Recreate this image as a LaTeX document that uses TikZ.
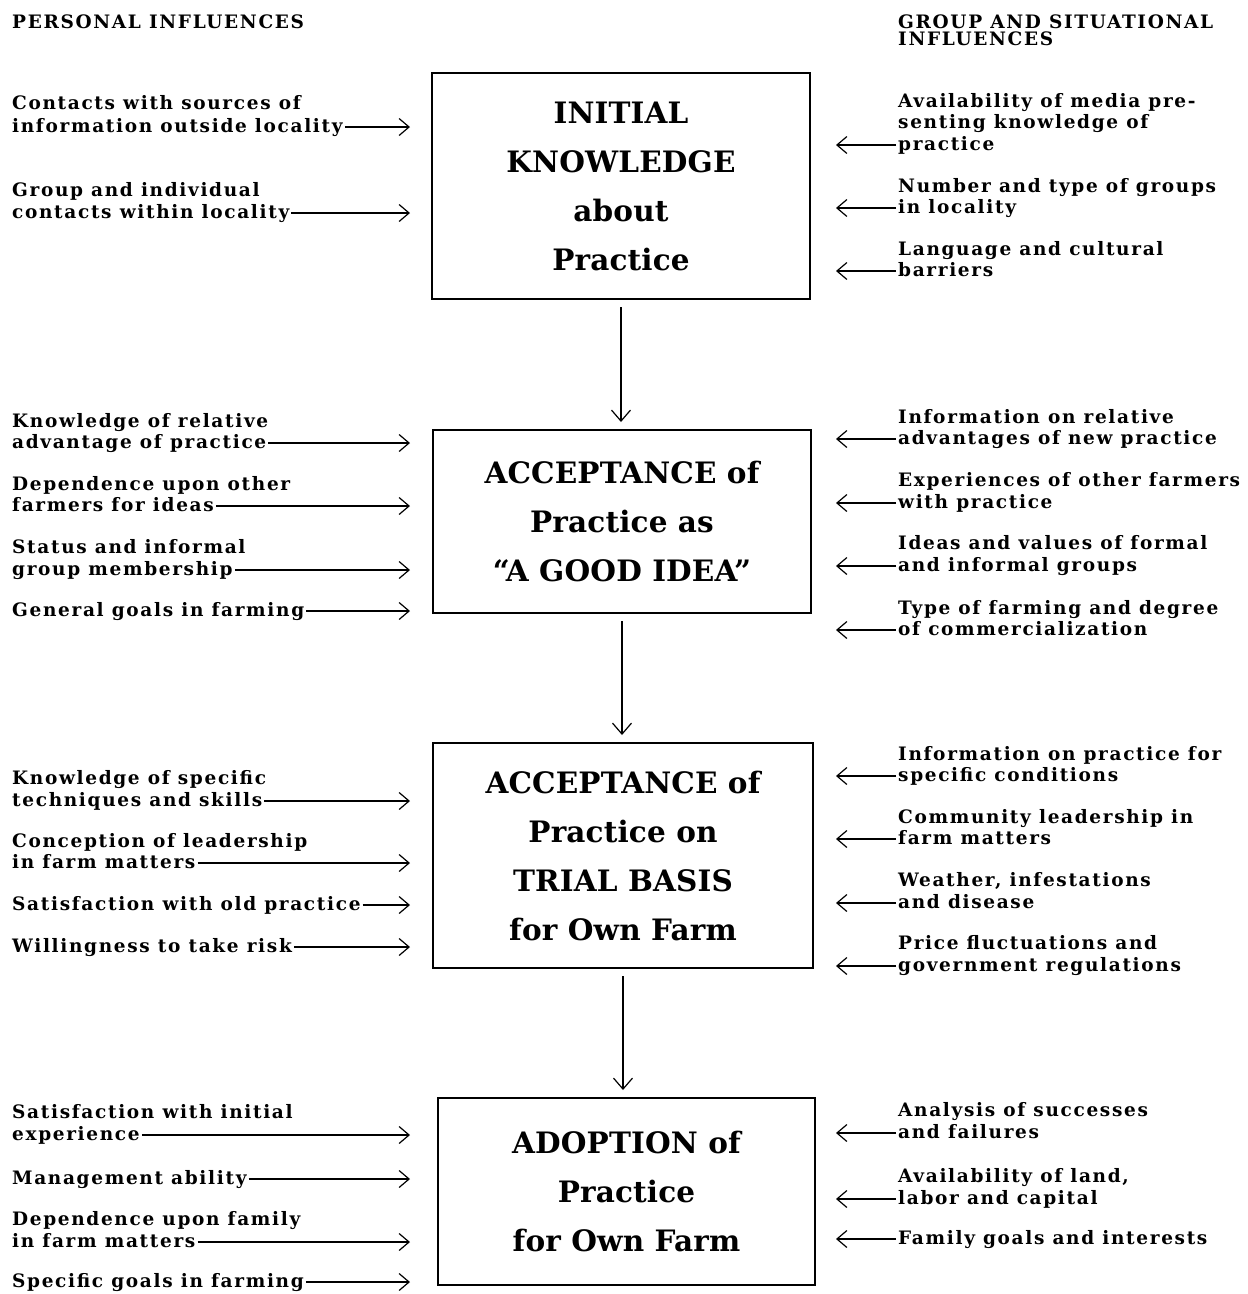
\documentclass[tikz,border=0pt]{standalone}
\usepackage{fontspec}
\newfontfamily\labfont{DejaVu Serif}[LetterSpace=9,BoldFont={DejaVu Serif Bold}]
\newfontfamily\hdrfont{DejaVu Serif}[LetterSpace=9,BoldFont={DejaVu Serif Bold}]
\newfontfamily\stagefont{DejaVu Serif}[LetterSpace=0.5,BoldFont={DejaVu Serif Bold}]
\usetikzlibrary{arrows.meta}
\tikzset{
  lab/.style={anchor=base west, inner sep=0pt, font=\labfont\bfseries\fontsize{18.5}{21}\selectfont},
  hdr/.style={anchor=base west, inner sep=0pt, font=\hdrfont\bfseries\fontsize{18.5}{17}\selectfont},
  stage/.style={draw, line width=2pt, align=center, inner sep=0pt,
    font=\stagefont\bfseries\fontsize{29.5}{49}\selectfont},
  infl/.style={line width=1.2pt, -{Straight Barb[length=10pt,width=17pt,line width=1.2pt]}},
  flow/.style={line width=1.2pt, shorten <=7pt, shorten >=7pt,
    -{Straight Barb[length=11pt,width=19pt,line width=1.2pt]}}
}
\newcommand\larrow[1]{%
  \path ([yshift=5pt]#1.base east) coordinate (#1-t);
  \draw[infl] ([xshift=2pt]#1-t) -- (#1-t -| ltip);}
\newcommand\rarrow[1]{%
  \path ([yshift=5pt]#1.base west) coordinate (#1-t);
  \draw[infl] ([xshift=-2pt]#1-t) -- (#1-t -| rtip);}
\begin{document}
\begin{tikzpicture}[x=1pt,y=-1pt]
\fill[white] (0,0) rectangle (1248,1294);
\useasboundingbox (0,0) rectangle (1248,1294);
\coordinate (ltip) at (410,0);
\coordinate (rtip) at (836,0);

% headers
\node[hdr] (h1) at (12,28) {PERSONAL INFLUENCES};
\node[hdr] (h2) at (898,28) {GROUP AND SITUATIONAL};
\node[hdr] (h3) at (898,45) {INFLUENCES};

% stages
\node[stage, minimum width=378pt, minimum height=226pt] (b1) at (621,186)
  {INITIAL\\KNOWLEDGE\\about\\Practice};
\node[stage, minimum width=378pt, minimum height=183pt] (b2) at (622,521.5)
  {ACCEPTANCE of\\Practice as\\“A GOOD IDEA”};
\node[stage, minimum width=380pt, minimum height=225pt] (b3) at (623,855.5)
  {ACCEPTANCE of\\Practice on\\TRIAL BASIS\\for Own Farm};
\node[stage, minimum width=377pt, minimum height=187pt] (b4) at (626.5,1191.5)
  {ADOPTION of\\Practice\\for Own Farm};

\draw[flow] (b1.south) -- (b1.south |- b2.north);
\draw[flow] (b2.south) -- (b2.south |- b3.north);
\draw[flow] (b3.south) -- (b3.south |- b4.north);

% left labels
\node[lab] (L1a) at (12,109) {Contacts with sources of};
\node[lab] (L1b) at (12,132) {information outside locality};
\node[lab] (L2a) at (12,196) {Group and individual};
\node[lab] (L2b) at (12,218) {contacts within locality};
\node[lab] (L3a) at (12,427) {Knowledge of relative};
\node[lab] (L3b) at (12,448) {advantage of practice};
\node[lab] (L4a) at (12,490) {Dependence upon other};
\node[lab] (L4b) at (12,511) {farmers for ideas};
\node[lab] (L5a) at (12,553) {Status and informal};
\node[lab] (L5b) at (12,575) {group membership};
\node[lab] (L6)  at (12,616) {General goals in farming};
\node[lab] (L7a) at (12,784) {Knowledge of specific};
\node[lab] (L7b) at (12,806) {techniques and skills};
\node[lab] (L8a) at (12,847) {Conception of leadership};
\node[lab] (L8b) at (12,868) {in farm matters};
\node[lab] (L9)  at (12,910) {Satisfaction with old practice};
\node[lab] (L10) at (12,952) {Willingness to take risk};
\node[lab] (L11a) at (12,1118) {Satisfaction with initial};
\node[lab] (L11b) at (12,1140) {experience};
\node[lab] (L12) at (12,1184) {Management ability};
\node[lab] (L13a) at (12,1225) {Dependence upon family};
\node[lab] (L13b) at (12,1247) {in farm matters};
\node[lab] (L14) at (12,1287) {Specific goals in farming};

\foreach \n in {L1b,L2b,L3b,L4b,L5b,L6,L7b,L8b,L9,L10,L11b,L12,L13b,L14}{\larrow{\n}}

% right labels
\node[lab] (R1a) at (898,107) {Availability of media pre-};
\node[lab] (R1b) at (898,128) {senting knowledge of};
\node[lab] (R1c) at (898,150) {practice};
\node[lab] (R2a) at (898,192) {Number and type of groups};
\node[lab] (R2b) at (898,213) {in locality};
\node[lab] (R3a) at (898,255) {Language and cultural};
\node[lab] (R3b) at (898,276) {barriers};
\node[lab] (R4a) at (898,423) {Information on relative};
\node[lab] (R4b) at (898,444) {advantages of new practice};
\node[lab] (R5a) at (898,486) {Experiences of other farmers};
\node[lab] (R5b) at (898,508) {with practice};
\node[lab] (R6a) at (898,549) {Ideas and values of formal};
\node[lab] (R6b) at (898,571) {and informal groups};
\node[lab] (R7a) at (898,614) {Type of farming and degree};
\node[lab] (R7b) at (898,635) {of commercialization};
\node[lab] (R8a) at (898,760) {Information on practice for};
\node[lab] (R8b) at (898,781) {specific conditions};
\node[lab] (R9a) at (898,823) {Community leadership in};
\node[lab] (R9b) at (898,844) {farm matters};
\node[lab] (R10a) at (898,886) {Weather, infestations};
\node[lab] (R10b) at (898,908) {and disease};
\node[lab] (R11a) at (898,949) {Price fluctuations and};
\node[lab] (R11b) at (898,971) {government regulations};
\node[lab] (R12a) at (898,1116) {Analysis of successes};
\node[lab] (R12b) at (898,1138) {and failures};
\node[lab] (R13a) at (898,1182) {Availability of land,};
\node[lab] (R13b) at (898,1204) {labor and capital};
\node[lab] (R14) at (898,1244) {Family goals and interests};

\foreach \n in {R1c,R2b,R3b,R4b,R5b,R6b,R7b,R8b,R9b,R10b,R11b,R12b,R13b,R14}{\rarrow{\n}}
\end{tikzpicture}
\end{document}
